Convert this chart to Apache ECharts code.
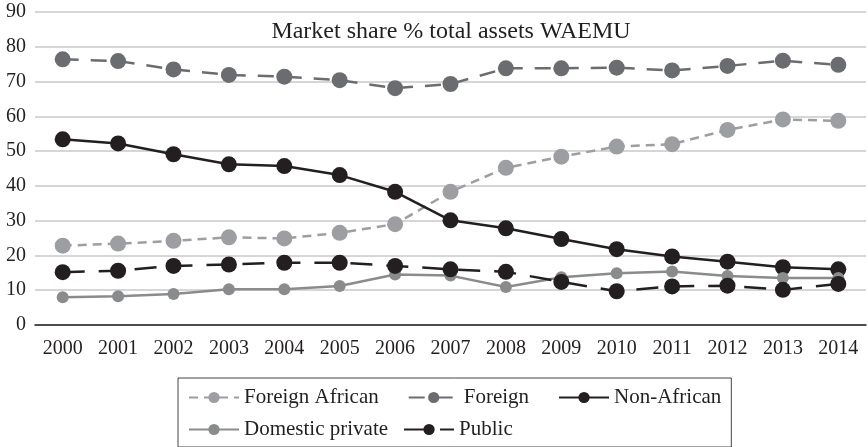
<!DOCTYPE html>
<html>
<head>
<meta charset="utf-8">
<script src="https://cdn.jsdelivr.net/npm/echarts@6/dist/echarts.min.js"></script>
<style>
html, body { margin: 0; padding: 0; background: #fff; }
#chart { width: 868px; height: 447px; }
</style>
</head>
<body>
<div id="chart"></div>
<script>
// categories and values
var years = ['2000', '2001', '2002', '2003', '2004', '2005', '2006', '2007',
	'2008', '2009', '2010', '2011', '2012', '2013', '2014'];
var foreignAfrican = [22.8, 23.4, 24.2, 25.2, 24.9, 26.5, 29.0, 38.3, 45.2, 48.4, 51.3, 52.0, 56.1, 59.1, 58.7];
var foreign = [76.4, 75.9, 73.5, 71.9, 71.4, 70.4, 68.1, 69.3, 73.8, 73.8, 74.0, 73.2, 74.5, 76.0, 74.8];
var nonAfrican = [53.4, 52.2, 49.1, 46.2, 45.7, 43.1, 38.3, 30.1, 27.8, 24.7, 21.8, 19.7, 18.2, 16.6, 16.0];
var domesticPrivate = [8.0, 8.3, 8.9, 10.3, 10.3, 11.2, 14.5, 14.2, 10.9, 13.7, 14.9, 15.4, 14.1, 13.5, 13.5];
var publicBanks = [15.2, 15.6, 17.0, 17.4, 17.9, 17.9, 17.0, 16.0, 15.3, 12.4, 9.7, 11.1, 11.3, 10.1, 11.8];

var serif = '"Liberation Serif", "DejaVu Serif", serif';
var ink = '#231f20';

var dom = document.getElementById('chart');
var myChart = echarts.init(dom);
var option = {
	animation: false,
	title: {
		text: 'Market share % total assets WAEMU',
		left: 446,
		textAlign: 'center',
		top: 15,
		textStyle: { fontFamily: serif, fontWeight: 'normal', fontSize: 24, color: ink }
	},
	// two legends: the first one carries the box round both rows
	legend: [{
		left: 178,
		top: 378,
		padding: [9, 10, 39, 10],
		itemGap: 29,
		itemWidth: 50,
		itemHeight: 14,
		borderColor: '#444',
		borderWidth: 1,
		textStyle: { fontFamily: serif, fontSize: 21, color: ink },
		data: ['Foreign African', 'Foreign', 'Non-African']
	}, {
		left: 178,
		top: 419,
		padding: [0, 10, 0, 10],
		itemGap: 15,
		itemWidth: 50,
		itemHeight: 14,
		textStyle: { fontFamily: serif, fontSize: 21, color: ink },
		data: ['Domestic private', 'Public']
	}],
	grid: {
		left: 35,
		right: 2,
		top: 12,
		bottom: 122
	},
	xAxis: {
		type: 'category',
		data: years,
		axisLine: { lineStyle: { color: ink, width: 1.5 } },
		axisTick: { show: false },
		axisLabel: { fontFamily: serif, fontSize: 20, color: ink, margin: 14 }
	},
	yAxis: {
		type: 'value',
		min: 0,
		max: 90,
		interval: 10,
		axisLine: { show: false },
		axisTick: { show: false },
		axisLabel: { fontFamily: serif, fontSize: 20, color: ink, margin: 9 },
		splitLine: { lineStyle: { color: '#c8c8c8', width: 1.5 } }
	},
	series: [{
		name: 'Foreign African',
		type: 'line',
		data: foreignAfrican,
		symbol: 'circle',
		symbolSize: 16,
		color: '#9d9ea1',
		lineStyle: { width: 2.5, type: [9, 6] }
	}, {
		name: 'Foreign',
		type: 'line',
		data: foreign,
		symbol: 'circle',
		symbolSize: 16,
		color: '#6b6c6f',
		lineStyle: { width: 2.5, type: [16, 12] }
	}, {
		name: 'Non-African',
		type: 'line',
		data: nonAfrican,
		symbol: 'circle',
		symbolSize: 16,
		color: ink,
		lineStyle: { width: 2.5 }
	}, {
		name: 'Domestic private',
		type: 'line',
		data: domesticPrivate,
		symbol: 'circle',
		symbolSize: 12,
		color: '#8a8b8d',
		lineStyle: { width: 2.5 }
	}, {
		name: 'Public',
		type: 'line',
		data: publicBanks,
		symbol: 'circle',
		symbolSize: 16,
		color: ink,
		lineStyle: { width: 2.5, type: [22, 14] }
	}]
};
if (option && typeof option === 'object') {
	myChart.setOption(option, true);
}
</script>
</body>
</html>
